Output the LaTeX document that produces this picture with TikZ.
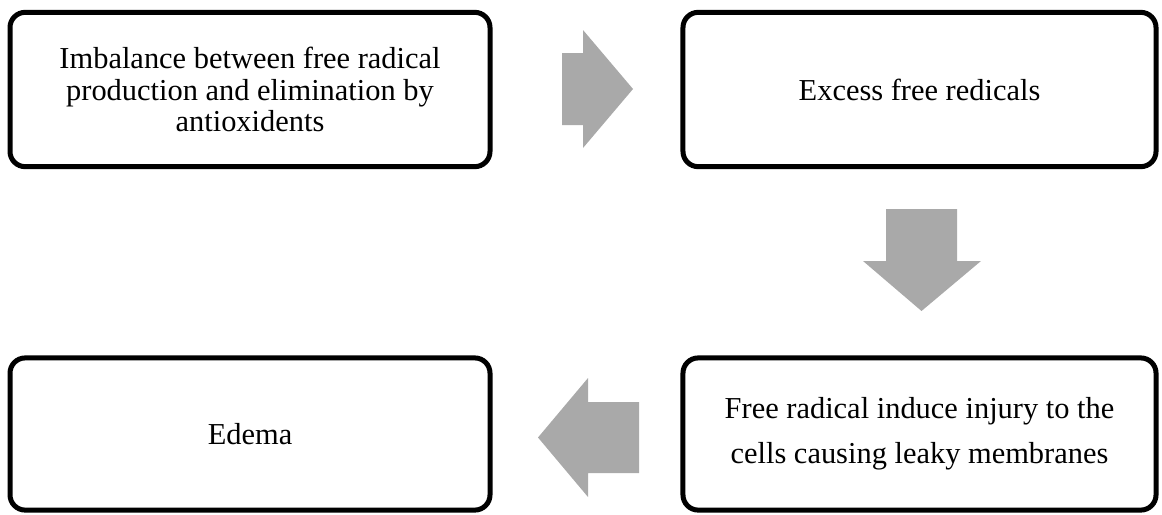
\documentclass[tikz,border=0pt]{standalone}
\usepackage{fontspec}
\setmainfont{Liberation Serif}
\definecolor{arrowgray}{HTML}{A9A9A9}
\tikzset{
  stepbox/.style={draw=black, line width=2.3pt, rounded corners=7pt,
    minimum width=220.8pt, minimum height=71pt, align=center,
    font=\fontsize{14}{14.5}\selectfont, inner sep=0pt},
  bigarrow/.style={fill=arrowgray, draw=none}
}
\begin{document}
\begin{tikzpicture}[x=0.46pt,y=-0.46pt]
  \useasboundingbox (0,0) rectangle (1162,514);
  \node[stepbox] (imbalance) at (250,89.5) {Imbalance between free radical\\production and elimination by\\antioxidents};
  \node[stepbox, minimum width=217.6pt] (excess) at (919.5,89.5) {Excess free redicals};
  \node[stepbox, minimum width=217.6pt, minimum height=70pt,
    font=\fontsize{14}{20.7}\selectfont] (injury) at (919.5,434) {Free radical induce injury to the\\cells causing leaky membranes};
  \node[stepbox, minimum height=70pt] (edema) at (250,434) {Edema};
  % block arrows between the steps
  \fill[bigarrow] (562,53) -- (583,53) -- (583,30) -- (633,89) -- (583,148) -- (583,125) -- (562,125) -- cycle;
  \fill[bigarrow] (886,209) -- (957,209) -- (957,261) -- (981,261) -- (921.5,311) -- (863,261) -- (886,261) -- cycle;
  \fill[bigarrow] (639,402) -- (588,402) -- (588,378) -- (538,437.5) -- (588,497) -- (588,473) -- (639,473) -- cycle;
\end{tikzpicture}
\end{document}
